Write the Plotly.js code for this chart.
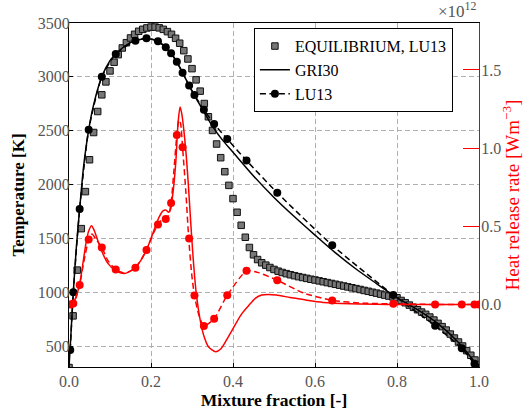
<!DOCTYPE html>
<html>
<head>
<meta charset="utf-8">
<script src="https://cdn.plot.ly/plotly-3.0.1.min.js"></script>
<style>html,body{margin:0;padding:0;background:#fff;}</style>
</head>
<body>
<div id="chart" style="width:523px;height:412px;"></div>
<script>
// Equilibrium (LU13) temperature, mixture fraction every 0.01
var eqX = [0.00,0.01,0.02,0.03,0.04,0.05,0.06,0.07,0.08,0.09,
           0.10,0.11,0.12,0.13,0.14,0.15,0.16,0.17,0.18,0.19,
           0.20,0.21,0.22,0.23,0.24,0.25,0.26,0.27,0.28,0.29,
           0.30,0.31,0.32,0.33,0.34,0.35,0.36,0.37,0.38,0.39,
           0.40,0.41,0.42,0.43,0.44,0.45,0.46,0.47,0.48,0.49,
           0.50,0.51,0.52,0.53,0.54,0.55,0.56,0.57,0.58,0.59,
           0.60,0.61,0.62,0.63,0.64,0.65,0.66,0.67,0.68,0.69,
           0.70,0.71,0.72,0.73,0.74,0.75,0.76,0.77,0.78,0.79,
           0.80,0.81,0.82,0.83,0.84,0.85,0.86,0.87,0.88,0.89,
           0.90,0.91,0.92,0.93,0.94,0.95,0.96,0.97,0.98,0.99,1.00];
var eqT = [300,780,1205,1590,1934,2230,2483,2678,2833,2953,
           3055,3136,3206,3268,3317,3361,3395,3423,3441,3454,
           3462,3462,3455,3441,3420,3395,3358,3312,3243,3166,
           3076,2972,2867,2752,2629,2502,2376,2249,2119,1992,
           1869,1742,1621,1510,1415,1347,1303,1273,1251,1229,
           1211,1195,1183,1172,1162,1153,1144,1136,1128,1120,
           1113,1105,1097,1089,1081,1073,1065,1057,1049,1041,
           1033,1025,1016,1008,999,991,982,973,964,956,
           948,923,902,880,859,837,815,794,769,741,
           710,680,648,611,574,537,500,457,414,370,328];

// GRI30 temperature (solid black)
var griX = [0,0.004,0.0105,0.018,0.026,0.036,0.048,0.06,0.08,0.10,0.114,0.13,0.15,0.17,0.19,0.21,0.23,0.25,0.27,0.29,0.31,0.33,0.35,0.375,0.40,0.45,0.50,0.55,0.60,0.65,0.70,0.75,0.80,0.85,0.90,0.95,1.00];
var griT = [300,560,1000,1420,1773,2180,2508,2740,3000,3150,3213,3268,3318,3345,3354,3342,3295,3215,3090,2940,2800,2670,2540,2410,2300,2080,1880,1700,1530,1365,1215,1080,950,838,708,532,300];

// GRI30 heat release rate (solid red), units 1e12 W/m3
var griQX = [0,0.005,0.012,0.02,0.028,0.036,0.042,0.048,0.055,0.062,0.07,0.08,0.094,0.115,0.135,0.155,0.175,0.19,0.208,0.22,0.23,0.237,0.243,0.248,0.252,0.257,0.261,0.266,0.271,0.275,0.28,0.286,0.291,0.297,0.303,0.31,0.32,0.33,0.34,0.358,0.37,0.385,0.40,0.42,0.437,0.455,0.47,0.486,0.505,0.539,0.58,0.62,0.685,0.75,0.80,0.90,1.00];
var griQ  = [0,0.003,0.02,0.07,0.16,0.30,0.40,0.47,0.504,0.47,0.41,0.34,0.266,0.213,0.198,0.222,0.28,0.355,0.479,0.56,0.60,0.603,0.59,0.61,0.68,0.80,0.93,1.16,1.262,1.22,1.117,0.95,0.77,0.52,0.29,0.08,-0.10,-0.21,-0.27,-0.302,-0.285,-0.224,-0.155,-0.065,-0.011,0.04,0.06,0.064,0.06,0.045,0.027,0.013,0.004,0.001,0,0,0];

// LU13 markers: temperature and heat release rate
var lu13X = [0.003,0.0105,0.026,0.048,0.080,0.114,0.162,0.189,0.217,0.236,0.249,0.263,0.277,0.293,0.306,0.329,0.354,0.386,0.433,0.508,0.642,0.791,0.893,0.958,0.989,1.0];
var lu13T = [463,1000,1773,2508,3000,3213,3336,3358,3330,3275,3219,3139,3037,2919,2832,2694,2563,2422,2223,1923,1436,973,688,478,335,300];
var lu13Q = [0.0,0.006,0.125,0.415,0.365,0.223,0.234,0.349,0.511,0.547,0.649,1.084,1.005,0.422,0.057,-0.138,-0.091,0.059,0.215,0.155,0.026,0.004,0.0,0.0,0.0,0.0];

// LU13 heat release rate line (dashed red)
var lu13LineX = [0.0,0.003,0.0105,0.018,0.026,0.036,0.048,0.056,0.065,0.080,0.095,0.114,0.135,0.162,0.189,0.205,0.217,0.228,0.236,0.243,0.249,0.256,0.263,0.268,0.272,0.277,0.285,0.292,0.299,0.306,0.317,0.329,0.354,0.386,0.433,0.46,0.508,0.57,0.642,0.72,0.791,0.893,0.958,0.989,1.0];
var lu13LineQ = [0.0,0.0,0.006,0.05,0.125,0.27,0.415,0.45,0.42,0.365,0.28,0.223,0.20,0.234,0.349,0.45,0.511,0.545,0.547,0.57,0.649,0.86,1.084,1.18,1.16,1.005,0.72,0.422,0.2,0.057,-0.07,-0.138,-0.091,0.059,0.215,0.205,0.155,0.075,0.026,0.008,0.004,0.0,0.0,0.0,0.0];

var xTicks = [0,0.2,0.4,0.6,0.8,1.0];
var xTickText = ['0.0','0.2','0.4','0.6','0.8','1.0'];
var tTicks = [500,1000,1500,2000,2500,3000,3500];
var qTicks = [0,0.5,1.0,1.5];
var qTickText = ['0.0','0.5','1.0','1.5'];

var serif = '"Liberation Serif", "Times New Roman", serif';

var traces = [
  {x: eqX, y: eqT, type:'scatter', mode:'markers', name:'EQUILIBRIUM, LU13',
   marker:{symbol:'square', size:6.5, color:'#777777', line:{color:'#111111', width:1}}},
  {x: griX, y: griT, type:'scatter', mode:'lines', name:'GRI30',
   line:{color:'black', width:1.5, shape:'spline', smoothing:0.8}},
  {x: lu13X, y: lu13T, type:'scatter', mode:'lines+markers', name:'LU13',
   line:{color:'black', width:1.5, dash:'6px,3.5px', shape:'spline', smoothing:0.6},
   marker:{symbol:'circle', size:8, color:'black'}},
  {x: griQX, y: griQ, yaxis:'y2', type:'scatter', mode:'lines', showlegend:false,
   line:{color:'red', width:1.5, shape:'spline', smoothing:0.8}},
  {x: lu13LineX, y: lu13LineQ, yaxis:'y2', type:'scatter', mode:'lines', showlegend:false,
   line:{color:'red', width:1.5, dash:'6px,3.5px', shape:'spline', smoothing:0.6}},
  {x: lu13X, y: lu13Q, yaxis:'y2', type:'scatter', mode:'markers', showlegend:false,
   marker:{symbol:'circle', size:8, color:'red'}}
];

var layout = {
  width: 523, height: 412,
  margin: {l:69, r:44, t:23, b:45, pad:0},
  paper_bgcolor:'white', plot_bgcolor:'white',
  font: {family: serif, color:'#555', size:16},
  showlegend: true,
  legend: {x:0.451, y:0.985, xanchor:'left', yanchor:'top', bgcolor:'white',
           bordercolor:'black', borderwidth:1, font:{family:serif, size:16, color:'black'},
           tracegroupgap:0},
  xaxis: {range:[0,1], tickvals:xTicks, ticktext:xTickText, ticks:'inside', ticklen:4,
          tickcolor:'black', showline:true, linecolor:'black', linewidth:1, mirror:true,
          showgrid:true, gridcolor:'#b0b0b0', griddash:'5px,3px', gridwidth:1, zeroline:false,
          tickfont:{family:serif, size:16, color:'#555'},
          title:{text:'Mixture fraction [-]', font:{family:serif, size:17.5, weight:'bold', color:'black'}, standoff:0}},
  yaxis: {range:[305,3500], tickvals:tTicks, ticks:'inside', ticklen:4, tickcolor:'black',
          showline:true, linecolor:'black', linewidth:1, mirror:false, ticklabelstandoff:-5,
          showgrid:true, gridcolor:'#b0b0b0', griddash:'5px,3px', gridwidth:1, zeroline:false,
          tickfont:{family:serif, size:16, color:'#555'},
          title:{text:'Temperature [K]', font:{family:serif, size:17, weight:'bold', color:'black'}, standoff:8}},
  yaxis2: {overlaying:'y', side:'right', range:[-0.4,1.8], tickvals:qTicks, ticktext:qTickText,
           ticks:'inside', ticklen:16, tickcolor:'red', tickwidth:1, ticklabelstandoff:-2,
           showline:true, linecolor:'#444', linewidth:1, showgrid:false, zeroline:false,
           tickfont:{family:serif, size:16, color:'#555'},
           title:{text:'Heat release rate [Wm<sup>−3</sup>]', font:{family:serif, size:19, color:'red'}, standoff:6}},
  annotations: [{xref:'paper', yref:'paper', x:1, y:1, xanchor:'right', yanchor:'bottom',
                 text:'×10<sup>12</sup>', showarrow:false, font:{family:serif, size:17, color:'#555'}}]
};

Plotly.newPlot('chart', traces, layout, {displayModeBar:false, staticPlot:true});
</script>
</body>
</html>
